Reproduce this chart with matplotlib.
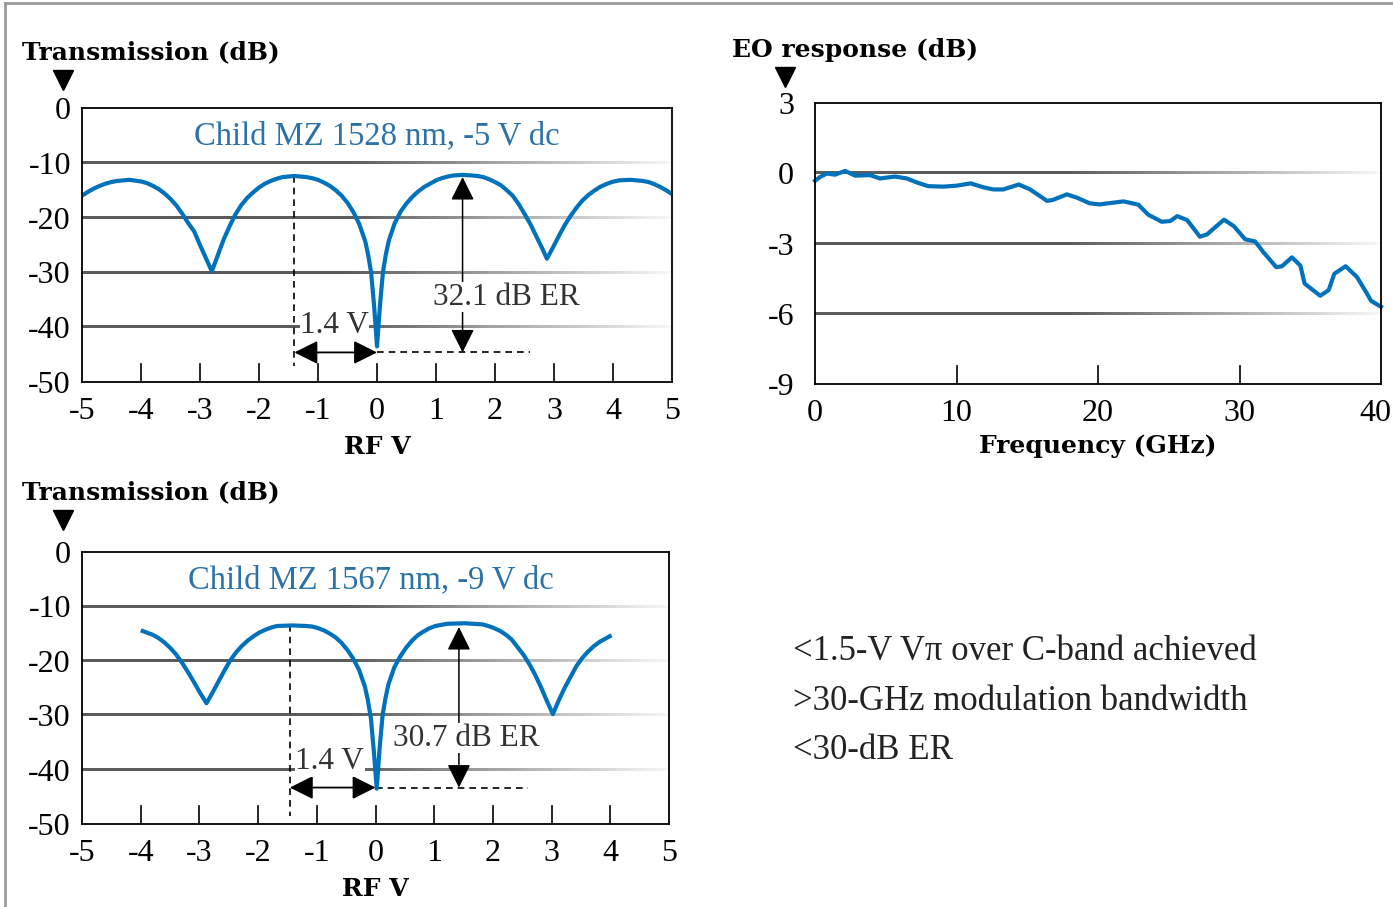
import numpy as np
import matplotlib
matplotlib.use('Agg')
import matplotlib.pyplot as plt
import matplotlib.transforms as mtransforms
from matplotlib.lines import Line2D

# --- data ---
rf_v_top = [-5.0, -4.9, -4.8, -4.7, -4.6, -4.5, -4.4, -4.2, -4.0, -3.9, -3.8, -3.7, -3.6, -3.5,
            -3.4, -3.3, -3.2, -3.1, -3.0, -2.9, -2.8, -2.7, -2.6, -2.5, -2.4, -2.3, -2.2, -2.1,
            -2.0, -1.9, -1.8, -1.7, -1.6, -1.4, -1.2, -1.1, -1.0, -0.9, -0.8, -0.7, -0.6, -0.5,
            -0.4, -0.3, -0.2, -0.15, -0.1, -0.05, 0.0, 0.05, 0.1, 0.15, 0.2, 0.3, 0.4, 0.5, 0.6,
            0.7, 0.8, 0.9, 1.0, 1.1, 1.2, 1.3, 1.45, 1.6, 1.7, 1.8, 1.9, 2.0, 2.1, 2.2, 2.3, 2.4,
            2.5, 2.6, 2.7, 2.8, 2.88, 2.98, 3.08, 3.18, 3.28, 3.38, 3.48, 3.58, 3.68, 3.78, 3.88,
            3.98, 4.1, 4.3, 4.5, 4.6, 4.7, 4.8, 4.9, 5.0]
trans_top = [-16.0, -15.3, -14.7, -14.2, -13.8, -13.5, -13.3, -13.1, -13.4, -13.7, -14.2, -14.8, -15.6, -16.6,
             -17.8, -19.3, -21.0, -22.5, -25.0, -27.4, -29.8, -26.9, -24.0, -21.6, -19.4, -17.7, -16.4, -15.4,
             -14.5, -13.8, -13.3, -12.9, -12.6, -12.4, -12.6, -12.8, -13.1, -13.6, -14.2, -15.0, -16.0, -17.3,
             -19.0, -21.2, -24.3, -26.8, -30.0, -36.0, -43.5, -36.0, -30.0, -26.7, -24.2, -21.0, -18.9, -17.4, -16.2,
             -15.2, -14.4, -13.8, -13.2, -12.8, -12.5, -12.3, -12.2, -12.3, -12.4, -12.6, -13.0, -13.5, -14.1, -15.0, -16.0, -17.5,
             -19.3, -21.2, -23.4, -25.6, -27.5, -25.5, -23.4, -21.4, -19.7, -18.2, -16.9, -15.9, -15.1, -14.4, -13.9,
             -13.5, -13.2, -13.1, -13.3, -13.5, -13.9, -14.4, -15.0, -15.7]

rf_v_bot = [-4.0, -3.9, -3.8, -3.7, -3.6, -3.5, -3.4, -3.3, -3.2, -3.1, -3.0, -2.88, -2.78, -2.68,
            -2.58, -2.48, -2.38, -2.28, -2.18, -2.08, -1.98, -1.88, -1.78, -1.68, -1.41, -1.18, -1.08,
            -0.98, -0.88, -0.78, -0.68, -0.58, -0.48, -0.38, -0.28, -0.18, -0.13, -0.08, -0.03, 0.02,
            0.07, 0.12, 0.17, 0.22, 0.32, 0.42, 0.52, 0.62, 0.72, 0.82, 0.92, 1.02, 1.12, 1.22, 1.52,
            1.82, 1.92, 2.02, 2.12, 2.22, 2.32, 2.42, 2.52, 2.62, 2.72, 2.82, 2.92, 3.02, 3.12, 3.22,
            3.32, 3.42, 3.52, 3.62, 3.72, 3.82, 3.92, 4.02]
trans_bot = [-14.4, -14.8, -15.2, -15.8, -16.6, -17.6, -18.8, -20.3, -22.0, -23.8, -25.7, -27.8, -25.9, -23.9,
             -21.9, -20.0, -18.5, -17.3, -16.3, -15.5, -14.8, -14.3, -13.9, -13.6, -13.5, -13.6, -13.7,
             -14.0, -14.4, -15.0, -15.7, -16.7, -18.0, -19.6, -21.7, -24.8, -27.3, -30.5, -36.5, -43.5,
             -36.0, -30.0, -26.8, -24.3, -21.2, -19.2, -17.6, -16.3, -15.3, -14.6, -14.0, -13.6, -13.4, -13.2, -13.1,
             -13.3, -13.6, -14.0, -14.5, -15.2, -16.1, -17.5, -18.9, -20.6, -22.6, -24.9, -27.4, -29.8, -27.3, -25.0,
             -23.0, -21.0, -19.5, -18.3, -17.3, -16.5, -15.9, -15.3]

freq_ghz = [0.0, 0.35, 0.83, 1.41, 2.12, 2.83, 3.89, 4.59, 5.65, 6.48, 7.18, 8.0, 9.07, 10.0, 11.0,
            11.9, 12.6, 13.3, 14.4, 15.2, 16.4, 16.8, 17.8, 18.5, 19.4, 20.1, 21.8, 22.85, 23.55,
            24.5, 25.1, 25.6, 26.3, 27.2, 27.7, 28.9, 29.6, 30.4, 31.1, 31.7, 32.6, 33.0, 33.7,
            34.3, 34.6, 35.7, 36.3, 36.7, 37.5, 38.3, 39.0, 39.3, 40.0]
eo_db = [-0.32, -0.16, -0.01, -0.06, 0.10, -0.10, -0.08, -0.22, -0.14, -0.22, -0.39, -0.55, -0.57, -0.53, -0.43,
         -0.60, -0.69, -0.69, -0.48, -0.69, -1.18, -1.14, -0.90, -1.04, -1.28, -1.33, -1.20, -1.34, -1.77,
         -2.07, -2.04, -1.83, -2.00, -2.71, -2.61, -1.98, -2.26, -2.82, -2.91, -3.38, -4.01, -3.97, -3.59,
         -3.94, -4.71, -5.23, -4.99, -4.29, -3.97, -4.43, -5.13, -5.45, -5.70]

volt_ticks = [-5, -4, -3, -2, -1, 0, 1, 2, 3, 4, 5]
trans_ticks = [0, -10, -20, -30, -40, -50]
freq_ticks = [0, 10, 20, 30, 40]
eo_ticks = [3, 0, -3, -6, -9]

bullets = ['<1.5-V V\u03c0 over C-band achieved', '>30-GHz modulation bandwidth', '<30-dB ER']

BLUE = '#0072bc'
TXT_BLUE = '#2a72a8'
LIGHT = 'Liberation Serif'
BOLD = 'DejaVu Serif'
FIG_H = 907

fig = plt.figure(figsize=(13.93, 9.07), dpi=100)


def fade_line(ax, y, xlim, ylim, height_px):
    # gridline drawn as a thin gradient strip: dark grey on the left, fading out to the right
    half = (ylim[1] - ylim[0]) / height_px * 1.1
    t = np.linspace(0, 1, 256)
    fade = np.clip((t - 0.45) / 0.55, 0, 1)
    g = 0.36 + (0.97 - 0.36) * fade
    img = np.dstack([g, g, g])
    ax.imshow(img, extent=[xlim[0], xlim[1], y - half, y + half], aspect='auto',
              interpolation='bilinear', zorder=1)


def style_axes(ax, xlim, ylim, xticks, yticks, xminor, ypad=8):
    ax.set_xlim(*xlim)
    ax.set_ylim(*ylim)
    ax.set_xticks(xticks)
    ax.set_yticks(yticks)
    ax.set_xticklabels([str(v) for v in xticks], family=LIGHT, fontsize=23)
    ax.set_yticklabels([str(v) for v in yticks], family=LIGHT, fontsize=23)
    ax.tick_params(axis='y', length=0, pad=ypad)
    ax.tick_params(axis='x', length=0, pad=11)
    for s in ax.spines.values():
        s.set_linewidth(1.3)
        s.set_color('black')
        s.set_zorder(6)
    # inner tick marks from the bottom spine
    span = ylim[1] - ylim[0]
    for xv in xminor:
        ax.plot([xv, xv], [ylim[0], ylim[0] + span * 0.065], color='black', lw=1.2, zorder=2)


def transmission_panel(rect, v, t, title, er_text, vpk_left, vpk_right, peak_left, peak_right,
                       floor_y, dash_bottom, er_xy, v_xy, title_xy):
    ax = fig.add_axes(rect)
    for g in [-10, -20, -30, -40]:
        fade_line(ax, g, (-5, 5), (-50, 0), rect[3] * FIG_H)
    style_axes(ax, (-5, 5), (-50, 0), volt_ticks, trans_ticks, [-4, -3, -2, -1, 0, 1, 2, 3, 4])
    ax.plot(v, t, color=BLUE, lw=3.0, zorder=4, solid_joinstyle='round', solid_capstyle='butt')
    ax.text(title_xy[0], title_xy[1], title, color=TXT_BLUE, family=LIGHT, fontsize=23.5,
            ha='center', va='center')
    # dashed guides
    ax.plot([vpk_left, vpk_left], [peak_left, dash_bottom], color='black', lw=1.2,
            ls=(0, (4, 3)), zorder=3)
    ax.plot([0, 2.6], [floor_y, floor_y], color='black', lw=1.2, ls=(0, (4, 3)), zorder=3)
    # arrows
    ax.annotate('', xy=(vpk_left, floor_y), xytext=(0, floor_y),
                arrowprops=dict(arrowstyle='<|-|>', color='black', lw=1.3,
                                mutation_scale=36, shrinkA=0, shrinkB=0), zorder=5)
    ax.annotate('', xy=(vpk_right, peak_right), xytext=(vpk_right, floor_y),
                arrowprops=dict(arrowstyle='<|-|>', color='black', lw=1.1,
                                mutation_scale=36, shrinkA=0, shrinkB=0), zorder=5)
    ax.text(er_xy[0], er_xy[1], er_text, family=LIGHT, fontsize=22.5, ha='center', va='center',
            color='#333333', zorder=6,
            bbox=dict(facecolor='white', edgecolor='none', pad=0.3))
    ax.text(v_xy[0], v_xy[1], '1.4 V', family=LIGHT, fontsize=22.5, ha='center', va='center',
            color='#333333', zorder=6,
            bbox=dict(facecolor='white', edgecolor='none', pad=0.3))
    ax.set_xlim(-5, 5)
    ax.set_ylim(-50, 0)
    return ax


ax1 = transmission_panel([0.0589, 0.5788, 0.4235, 0.3021], rf_v_top, trans_top,
                         'Child MZ 1528 nm, -5 V dc', '32.1 dB ER',
                         -1.4, 1.45, -12.4, -12.6, -44.6, -47.0, (2.2, -34.5), (-0.72, -39.6),
                         (0.0, -5.2))
ax1.set_xlabel('RF V', family=BOLD, fontweight='bold', fontsize=18, labelpad=6)

ax3 = transmission_panel([0.0589, 0.0915, 0.4214, 0.2999], rf_v_bot, trans_bot,
                         'Child MZ 1567 nm, -9 V dc', '30.7 dB ER',
                         -1.46, 1.42, -13.5, -13.8, -43.3, -48.6, (1.54, -34.2), (-0.78, -38.6),
                         (-0.08, -5.1))
ax3.set_xlabel('RF V', family=BOLD, fontweight='bold', fontsize=18, labelpad=6)

# EO response panel
eo_rect = [0.5851, 0.5766, 0.4063, 0.3098]
ax2 = fig.add_axes(eo_rect)
for g in [0, -3, -6]:
    fade_line(ax2, g, (0, 40), (-9, 3), eo_rect[3] * FIG_H)
style_axes(ax2, (0, 40), (-9, 3), freq_ticks, eo_ticks, [10, 20, 30], ypad=15)
ax2.plot(freq_ghz, eo_db, color=BLUE, lw=3.0, zorder=4, clip_on=False, solid_joinstyle='round')
ax2.set_xlim(0, 40)
ax2.set_ylim(-9, 3)
ax2.set_xlabel('Frequency (GHz)', family=BOLD, fontweight='bold', fontsize=18, labelpad=4)
# last frequency label sits at the right edge of the figure; nudge it inside
last = ax2.get_xticklabels()[-1]
last.set_transform(last.get_transform() + mtransforms.ScaledTranslation(-6 / 100, 0, fig.dpi_scale_trans))

# axis titles with pointer triangles
for (x, y, s) in [(0.0158, 0.9427, 'Transmission (dB)'), (0.0158, 0.4576, 'Transmission (dB)'),
                  (0.5255, 0.9449, 'EO response (dB)')]:
    fig.text(x, y, s, family=BOLD, fontweight='bold', fontsize=18, ha='left', va='center')
for (x, y) in [(0.0452, 0.9118), (0.0452, 0.4267), (0.5635, 0.9151)]:
    fig.add_artist(Line2D([x], [y], marker='v', markersize=15, color='black',
                          transform=fig.transFigure))

for i, line in enumerate(bullets):
    fig.text(0.569, 0.2822 - i * 0.0551, line, family=LIGHT, fontsize=25, ha='left', va='center',
             color='#222222')

# thin frame at top and left
fig.add_artist(Line2D([0.0036, 1.0], [0.9967, 0.9967], color='#9a9a9a', lw=2,
                      transform=fig.transFigure))
fig.add_artist(Line2D([0.0036, 0.0036], [0.0, 0.9967], color='#9a9a9a', lw=2,
                      transform=fig.transFigure))

fig.savefig('out.png', dpi=100)
